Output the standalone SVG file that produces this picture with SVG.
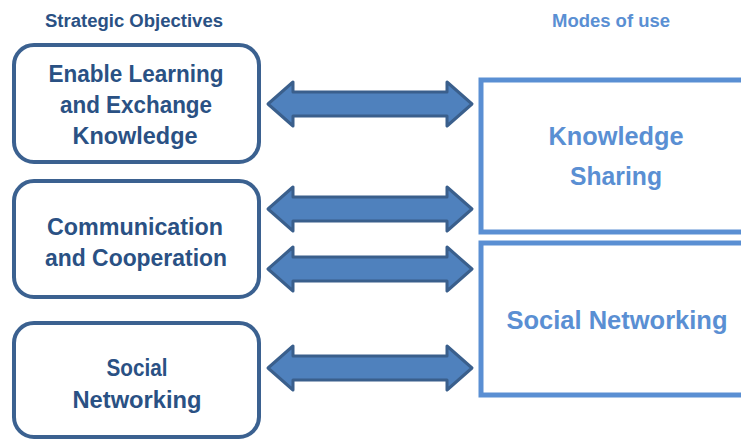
<svg xmlns="http://www.w3.org/2000/svg" width="741" height="439" viewBox="0 0 741 439">
<defs>
<style>
.obj{fill:#ffffff;stroke:#3b6190;stroke-width:4}
.mode{fill:#ffffff;stroke:#5a8fd3;stroke-width:5}
.t{font-family:"Liberation Sans",Arial,sans-serif;font-weight:bold;text-anchor:middle}
.lt{fill:#2a5184;font-size:24px}
.rt{fill:#5a8fd3;font-size:26px}
.hd{font-size:18px}
.arr{fill:#4f81bd;stroke:#3a5f8c;stroke-width:3;stroke-linejoin:round}
</style>
<path id="dbl" d="M268,0 L293,-22 L293,-12 L447,-12 L447,-22 L472,0 L447,22 L447,12 L293,12 L293,22 Z"/>
</defs>
<rect width="741" height="439" fill="#ffffff"/>
<text class="t hd" x="134" y="27" fill="#2a5184" textLength="178" lengthAdjust="spacingAndGlyphs">Strategic Objectives</text>
<text class="t hd" x="611" y="27" fill="#5a8fd3" textLength="118" lengthAdjust="spacingAndGlyphs">Modes of use</text>
<g id="obj1">
<rect class="obj" x="14" y="45" width="245" height="117" rx="20"/>
<text class="t lt" x="136" y="82" textLength="175" lengthAdjust="spacingAndGlyphs">Enable Learning</text>
<text class="t lt" x="136" y="113" textLength="152" lengthAdjust="spacingAndGlyphs">and Exchange</text>
<text class="t lt" x="135" y="144" textLength="125" lengthAdjust="spacingAndGlyphs">Knowledge</text>
</g>
<g id="obj2">
<rect class="obj" x="14" y="181" width="245" height="116" rx="20"/>
<text class="t lt" x="135" y="235" textLength="176" lengthAdjust="spacingAndGlyphs">Communication</text>
<text class="t lt" x="136" y="266" textLength="182" lengthAdjust="spacingAndGlyphs">and Cooperation</text>
</g>
<g id="obj3">
<rect class="obj" x="14" y="323" width="245" height="114" rx="20"/>
<text class="t lt" x="137" y="376" textLength="61" lengthAdjust="spacingAndGlyphs">Social</text>
<text class="t lt" x="137" y="408" textLength="129" lengthAdjust="spacingAndGlyphs">Networking</text>
</g>
<g id="mode1">
<rect class="mode" x="481" y="80" width="290" height="152"/>
<text class="t rt" x="616" y="145" textLength="135" lengthAdjust="spacingAndGlyphs">Knowledge</text>
<text class="t rt" x="616" y="185" textLength="92" lengthAdjust="spacingAndGlyphs">Sharing</text>
</g>
<g id="mode2">
<rect class="mode" x="481" y="243" width="290" height="152"/>
<text class="t rt" x="617" y="329" textLength="221" lengthAdjust="spacingAndGlyphs">Social Networking</text>
</g>
<g id="connectors">
<use href="#dbl" class="arr" transform="translate(0,104)"/>
<use href="#dbl" class="arr" transform="translate(0,209)"/>
<use href="#dbl" class="arr" transform="translate(0,269)"/>
<use href="#dbl" class="arr" transform="translate(0,368)"/>
</g>
</svg>
